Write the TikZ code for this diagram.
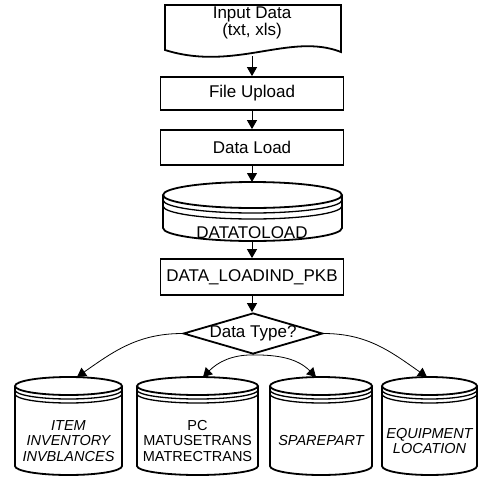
\documentclass[tikz,border=0pt]{standalone}
\usepackage{fontspec}
\setmainfont{Liberation Sans}
\usetikzlibrary{shapes.geometric,arrows.meta}

\begin{document}
\begin{tikzpicture}[x=1pt,y=1pt,
  box/.style={draw, line width=1.8pt, minimum width=183pt, inner sep=0pt, font=\fontsize{17}{19}\selectfont},
  decision/.style={diamond, draw, line width=1.8pt, aspect=3.4, inner sep=0pt, font=\fontsize{17}{19}\selectfont},
  store/.style={line width=1.8pt},
  storetext/.style={align=center, inner sep=0pt, font=\fontsize{14.5}{15.5}\selectfont},
  flow/.style={line width=1pt, -{Triangle[width=10pt,length=9pt]}},
  branch/.style={line width=0.8pt, -{Triangle[width=10pt,length=9pt]}}]
  \useasboundingbox (0,0) rectangle (479,-477);
  % Input document
  \draw[store] (165,-50) -- (165,-5) -- (341,-5) -- (341,-52)
    .. controls (290,-32) and (235,-72) .. cycle;
  \node[align=center, font=\fontsize{17}{15.5}\selectfont] (doc) at (252,-23) {Input Data\\(txt, xls)};
  \coordinate (docout) at (252,-56);
  % Processing steps
  \node[box, minimum height=33pt] (upload) at (252,-93.5) {File Upload};
  \node[box, minimum height=35pt] (load) at (252,-147.5) {Data Load};
  % Staging table
  \draw[store] (163,-195) -- (163,-228) arc[start angle=180, end angle=360, x radius=89.5, y radius=13] -- (342,-195);
  \draw[store] (252.5,-195) ellipse[x radius=89.5, y radius=13];
  \foreach \d in {5,11} {
    \draw[line width=1.3pt] (163,-195-\d) arc[start angle=180, end angle=360, x radius=89.5, y radius=13];
  }
  \node[font=\fontsize{17}{19}\selectfont, inner sep=0pt] (disk) at (252,-233) {DATATOLOAD};
  \coordinate (diskin) at (252,-182);
  \coordinate (diskout) at (252,-241);
  \node[box, minimum height=36pt] (pkb) at (252,-277) {DATA\_LOADIND\_PKB};
  \node[decision] (type) at (253,-333.5) {Data Type?};
  % Main flow
  \draw[flow] (docout) -- (upload);
  \draw[flow] (upload) -- (load);
  \draw[flow] (load) -- (diskin);
  \draw[flow] (diskout) -- (pkb);
  \draw[flow] (pkb) -- (pkb|-type.north);
  % Target tables
  \foreach \n/\cx/\rx/\ax/\lbl in {itm/68.5/53.5/8.5/{\itshape ITEM\\\itshape INVENTORY\\\itshape INVBLANCES},
                                   pc/197.5/60.5/5.5/{PC\\MATUSETRANS\\MATRECTRANS},
                                   spr/321/51/-5/{\itshape SPAREPART},
                                   eqp/429.5/47.5/-2.5/{\itshape EQUIPMENT\\\itshape LOCATION}} {
    \draw[store] (\cx-\rx,-386) -- (\cx-\rx,-466) arc[start angle=180, end angle=360, x radius=\rx, y radius=9] -- (\cx+\rx,-386);
    \draw[store] (\cx,-386) ellipse[x radius=\rx, y radius=9];
    \foreach \d in {4,8} {
      \draw[line width=1.3pt] (\cx-\rx,-386-\d) arc[start angle=180, end angle=360, x radius=\rx, y radius=9];
    }
    \node[storetext] (\n) at (\cx,-441) {\lbl};
    \coordinate (\n-in) at (\cx+\ax,-377);
  }
  % Branches by data type
  \draw[branch] (type.west) to[out=180, in=35] (itm-in);
  \draw[branch] (type.south) to[out=180, in=45] (pc-in);
  \draw[branch] (type.south) to[out=0, in=135] (spr-in);
  \draw[branch] (type.east) to[out=0, in=145] (eqp-in);
\end{tikzpicture}
\end{document}
